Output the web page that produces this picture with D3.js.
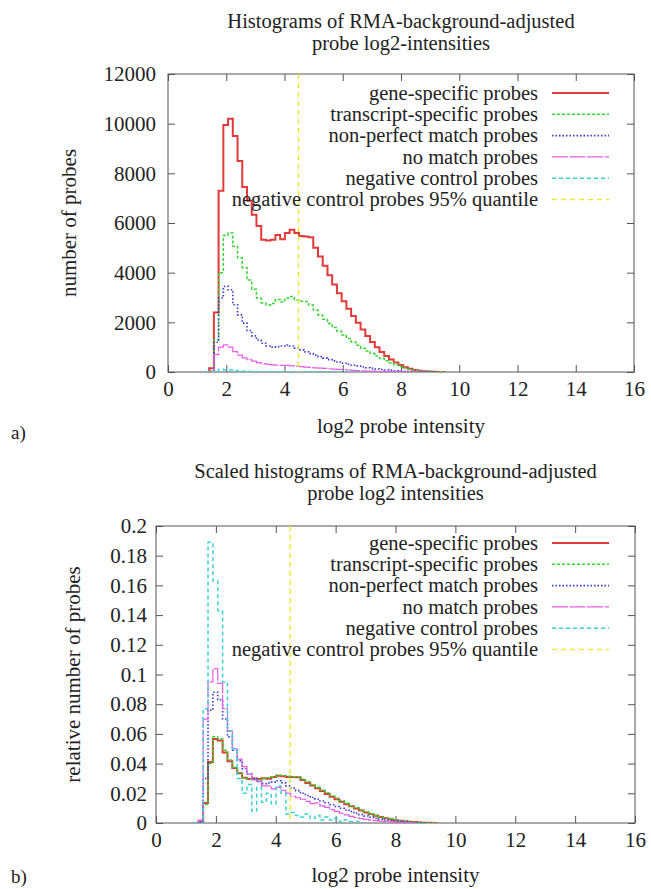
<!DOCTYPE html>
<html>
<head>
<meta charset="utf-8">
<script src="https://cdn.jsdelivr.net/npm/d3@7"></script>
<style>
body { margin: 0; background: #fff; }
svg text { font-family: "Liberation Serif", "Times New Roman", serif; fill: #222; }
</style>
</head>
<body>
<script>
'use strict';

// histogram bins: left edge of first bin and bin width (log2 units)
const binStart = 1.25;
const binWidth = 0.1625;
const quantile95 = 4.48;

const seriesNames = [
  'gene-specific probes',
  'transcript-specific probes',
  'non-perfect match probes',
  'no match probes',
  'negative control probes',
  'negative control probes 95% quantile'
];

const xTicks = [0, 2, 4, 6, 8, 10, 12, 14, 16];
const countTicks = [0, 2000, 4000, 6000, 8000, 10000, 12000];
const relTicks = [0, 0.02, 0.04, 0.06, 0.08, 0.1, 0.12, 0.14, 0.16, 0.18, 0.2];

// a) probe counts per bin
const geneCounts = [
  0, 150, 2400, 7300, 9950, 10200, 9500, 8500, 7450, 6900,
  6330, 5880, 5330, 5300, 5330, 5520, 5350, 5600, 5730, 5600,
  5480, 5460, 5430, 5000, 4650, 4280, 3900, 3520, 3170, 2850,
  2550, 2260, 1980, 1710, 1450, 1210, 1000, 810, 640, 500,
  380, 280, 195, 130, 85, 52, 30, 16, 8, 3, 0
];
const transcriptCounts = [
  0, 50, 1300, 4000, 5500, 5600, 5060, 4600, 4200, 3700,
  3330, 2980, 2780, 2700, 2760, 2920, 2820, 2980, 3040, 2900,
  2850, 2840, 2700, 2500, 2300, 2120, 1950, 1790, 1640, 1490,
  1350, 1210, 1080, 960, 850, 740, 640, 545, 455, 370,
  290, 220, 160, 110, 72, 45, 26, 14, 6, 2, 0
];
const nonPerfectCounts = [
  0, 20, 1200, 2980, 3450, 3310, 2710, 2300, 1970, 1670,
  1455, 1290, 1160, 1050, 1000, 1020, 1050, 1090, 1050, 960,
  890, 810, 740, 680, 620, 560, 500, 450, 400, 350,
  310, 270, 235, 200, 170, 145, 120, 100, 80, 64,
  50, 38, 28, 20, 13, 8, 4, 2, 0
];
const noMatchCounts = [
  0, 30, 700, 1000, 1090, 1000, 820, 680, 570, 500,
  440, 380, 340, 310, 285, 280, 265, 265, 250, 235,
  215, 200, 185, 170, 155, 145, 130, 118, 105, 92,
  80, 68, 57, 47, 39, 32, 26, 21, 17, 13,
  10, 7, 5, 3, 2, 1, 0
];
const negCtrlCounts = [
  0, 0, 45, 110, 95, 83, 55, 36, 29, 17,
  12, 15, 5, 14, 8, 12, 8, 15, 12, 3,
  4, 3, 2, 3, 2, 3, 1, 2, 1, 2,
  1, 1, 0
];

// b) relative number of probes per bin
const geneRel = [
  0, 0.0008, 0.0135, 0.041, 0.0565, 0.0555, 0.0475, 0.0415, 0.037, 0.0335,
  0.0305, 0.0296, 0.0300, 0.0296, 0.0302, 0.0298, 0.0310, 0.0318, 0.0314, 0.0310,
  0.0309, 0.0308, 0.0290, 0.0270, 0.0252, 0.0234, 0.0215, 0.0196, 0.0177, 0.0160,
  0.0143, 0.0127, 0.0112, 0.0097, 0.0084, 0.0071, 0.0060, 0.0049, 0.0040, 0.0032,
  0.0025, 0.0019, 0.0015, 0.0011, 0.0008, 0.0006, 0.0004, 0.0002, 0.0001, 0
];
const transcriptRel = [
  0, 0.0005, 0.0125, 0.040, 0.0580, 0.0568, 0.0490, 0.0425, 0.0375, 0.0338,
  0.0305, 0.0294, 0.0297, 0.0292, 0.0300, 0.0304, 0.0312, 0.0322, 0.0320, 0.0314,
  0.0312, 0.0311, 0.0296, 0.0277, 0.0259, 0.0241, 0.0222, 0.0203, 0.0184, 0.0166,
  0.0149, 0.0133, 0.0117, 0.0102, 0.0088, 0.0075, 0.0063, 0.0052, 0.0042, 0.0034,
  0.0026, 0.0020, 0.0015, 0.0011, 0.0008, 0.0005, 0.0003, 0.0002, 0.0001, 0
];
const nonPerfectRel = [
  0, 0.0005, 0.030, 0.076, 0.088, 0.083, 0.070, 0.058, 0.049, 0.042,
  0.0365, 0.033, 0.030, 0.028, 0.0265, 0.027, 0.0275, 0.0285, 0.027, 0.025,
  0.0235, 0.0218, 0.0200, 0.0185, 0.0172, 0.0160, 0.0148, 0.0136, 0.0123, 0.0111,
  0.0099, 0.0088, 0.0077, 0.0066, 0.0056, 0.0047, 0.0039, 0.0032, 0.0026, 0.0020,
  0.0016, 0.0012, 0.0009, 0.0006, 0.0004, 0.0002, 0.0001, 0
];
const noMatchRel = [
  0, 0.002, 0.070, 0.095, 0.104, 0.094, 0.077, 0.062, 0.050, 0.043,
  0.038, 0.033, 0.029, 0.028, 0.025, 0.025, 0.023, 0.024, 0.022, 0.020,
  0.018, 0.017, 0.016, 0.0145, 0.013, 0.0135, 0.0115, 0.0105, 0.009, 0.0078,
  0.0066, 0.0055, 0.0045, 0.0037, 0.0030, 0.0025, 0.0020, 0.0016, 0.0013, 0.0010,
  0.0008, 0.0006, 0.0004, 0.0002, 0.0001, 0
];
const negCtrlRel = [
  0, 0, 0.077, 0.189, 0.163, 0.143, 0.095, 0.062, 0.050, 0.030,
  0.020, 0.026, 0.008, 0.024, 0.014, 0.020, 0.013, 0.025, 0.020, 0.006,
  0.007, 0.005, 0.004, 0.006, 0.003, 0.005, 0.002, 0.004, 0.002, 0.003,
  0.001, 0.002, 0.001, 0.001, 0
];

const width = 651;
const height = 889;

// line styles, same order as seriesNames
const styles = [
  { color: '#e03a3a', w: 2,   dash: null },
  { color: '#33d633', w: 1.5, dash: '3,2' },
  { color: '#3a3ad0', w: 1.6, dash: '1.5,2' },
  { color: '#e85ce8', w: 1.2, dash: '16,1.5' },
  { color: '#3ad2d2', w: 1.5, dash: '4,3' },
  { color: '#eaea3a', w: 1.5, dash: '5,4' }
];

let svg = d3.select('body').append('svg')
    .attr('width', width)
    .attr('height', height)
    .attr('font-family', '"Liberation Serif", serif');

function drawPanel(p) {
  let x = d3.scaleLinear().domain([0, 16]).range([p.left, p.right]);
  let y = d3.scaleLinear().domain([0, p.yMax]).range([p.bottom, p.top]);

  let g = svg.append('g');

  svg.append('clipPath').attr('id', 'clip-' + p.id)
    .append('rect')
      .attr('x', p.left).attr('y', p.top)
      .attr('width', p.right - p.left).attr('height', p.bottom - p.top);

  // axes, ticks pointing inwards on all four sides
  let axes = [
    { ax: d3.axisBottom(x).tickValues(xTicks).tickFormat(d3.format('d')).tickPadding(9), t: `translate(0,${p.bottom})` },
    { ax: d3.axisTop(x).tickValues(xTicks).tickFormat(''), t: `translate(0,${p.top})` },
    { ax: d3.axisLeft(y).tickValues(p.yTicks).tickFormat(p.yFormat).tickPadding(p.yPad), t: `translate(${p.left},0)` },
    { ax: d3.axisRight(y).tickValues(p.yTicks).tickFormat(''), t: `translate(${p.right},0)` }
  ];
  axes.forEach(function (a) {
    let ag = g.append('g').attr('transform', a.t).call(a.ax.tickSize(-7));
    ag.select('.domain').remove();
    ag.selectAll('line').attr('stroke', '#555');
    ag.selectAll('text')
      .attr('font-family', '"Liberation Serif", serif')
      .attr('font-size', 21)
      .attr('fill', '#222');
  });

  g.append('rect')
    .attr('x', p.left).attr('y', p.top)
    .attr('width', p.right - p.left).attr('height', p.bottom - p.top)
    .attr('fill', 'none')
    .attr('stroke', '#555');

  let line = d3.line()
    .x(d => x(d[0]))
    .y(d => y(d[1]))
    .curve(d3.curveStepAfter);

  let plot = g.append('g').attr('clip-path', `url(#clip-${p.id})`);

  p.series.forEach(function (vals, k) {
    let pts = vals.map((v, i) => [binStart + i * binWidth, v]);
    pts.push([binStart + vals.length * binWidth, 0]);
    plot.append('path')
      .attr('d', line(pts))
      .attr('fill', 'none')
      .attr('stroke', styles[k].color)
      .attr('stroke-width', styles[k].w)
      .attr('stroke-dasharray', styles[k].dash);
  });

  // 95% quantile of negative controls
  plot.append('line')
    .attr('x1', x(quantile95)).attr('x2', x(quantile95))
    .attr('y1', p.top).attr('y2', p.bottom)
    .attr('stroke', styles[5].color)
    .attr('stroke-width', styles[5].w)
    .attr('stroke-dasharray', styles[5].dash);

  // key
  seriesNames.forEach(function (name, k) {
    let ky = p.keyTop + k * 21.3;
    g.append('text')
      .attr('x', 538).attr('y', ky)
      .attr('dy', '0.33em')
      .attr('text-anchor', 'end')
      .attr('font-size', 20.5)
      .text(name);
    g.append('line')
      .attr('x1', 552).attr('x2', 609)
      .attr('y1', ky).attr('y2', ky)
      .attr('stroke', styles[k].color)
      .attr('stroke-width', styles[k].w)
      .attr('stroke-dasharray', styles[k].dash);
  });

  let cx = (p.left + p.right) / 2;
  p.title.forEach(function (t, i) {
    g.append('text')
      .attr('x', cx).attr('y', p.titleY + i * 21.5)
      .attr('text-anchor', 'middle')
      .attr('font-size', 20.5)
      .text(t);
  });

  g.append('text')
    .attr('transform', `translate(${p.yLabelX},${(p.top + p.bottom) / 2}) rotate(-90)`)
    .attr('text-anchor', 'middle')
    .attr('font-size', 21)
    .text(p.yLabel);

  g.append('text')
    .attr('x', cx).attr('y', p.xLabelY)
    .attr('text-anchor', 'middle')
    .attr('font-size', 21)
    .text('log2 probe intensity');

  g.append('text')
    .attr('x', 11).attr('y', p.tagY)
    .attr('font-size', 19)
    .text(p.tag);
}

drawPanel({
  id: 'a',
  left: 168, right: 634, top: 74, bottom: 372,
  yMax: 12000, yTicks: countTicks, yFormat: d3.format('d'), yPad: 12,
  series: [geneCounts, transcriptCounts, nonPerfectCounts, noMatchCounts, negCtrlCounts],
  keyTop: 93,
  title: ['Histograms of RMA-background-adjusted', 'probe log2-intensities'],
  titleY: 28,
  yLabel: 'number of probes', yLabelX: 76,
  xLabelY: 433, tagY: 439,
  tag: 'a)'
});

drawPanel({
  id: 'b',
  left: 156, right: 635, top: 526, bottom: 823,
  yMax: 0.2, yTicks: relTicks, yFormat: d => d === 0 ? '0' : d3.format('.2~f')(d), yPad: 9,
  series: [geneRel, transcriptRel, nonPerfectRel, noMatchRel, negCtrlRel],
  keyTop: 543,
  title: ['Scaled histograms of RMA-background-adjusted', 'probe log2 intensities'],
  titleY: 478,
  yLabel: 'relative number of probes', yLabelX: 80,
  xLabelY: 882, tagY: 883,
  tag: 'b)'
});
</script>
</body>
</html>
